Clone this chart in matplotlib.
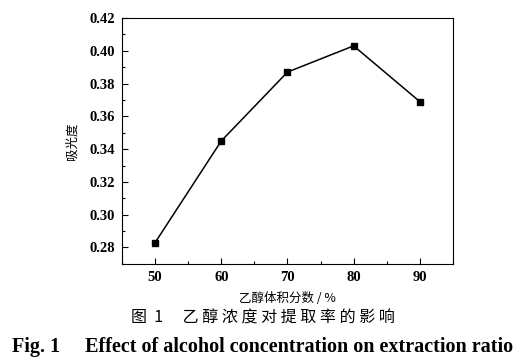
import matplotlib.pyplot as plt
from matplotlib.ticker import MultipleLocator

# 乙醇体积分数 (%) 与吸光度
ethanol = [50, 60, 70, 80, 90]
absorbance = [0.283, 0.345, 0.387, 0.403, 0.369]

cjk = ['Noto Sans CJK SC', 'DejaVu Sans']
serif = ['Liberation Serif', 'DejaVu Serif']

fig = plt.figure(figsize=(5.26, 3.6), dpi=100)
ax = fig.add_axes([0.232, 0.267, 0.629, 0.683])

ax.plot(ethanol, absorbance, color='black', linewidth=1.1,
        marker='s', markersize=4)

ax.set_xlim(45, 95)
ax.set_ylim(0.27, 0.42)
ax.xaxis.set_major_locator(MultipleLocator(10))
ax.xaxis.set_minor_locator(MultipleLocator(5))
ax.yaxis.set_major_locator(MultipleLocator(0.02))
ax.yaxis.set_minor_locator(MultipleLocator(0.01))
ax.tick_params(which='both', direction='in', top=False, right=False)
ax.tick_params(which='major', length=4, width=0.8, pad=5)
ax.tick_params(which='minor', length=2, width=0.8)
ax.set_yticks([0.28, 0.30, 0.32, 0.34, 0.36, 0.38, 0.40, 0.42])
ax.set_yticklabels(['%.2f' % v for v in ax.get_yticks()])

for lab in ax.get_xticklabels() + ax.get_yticklabels():
    lab.set_family(serif)
    lab.set_fontweight('bold')
    lab.set_fontsize(10.5)

ax.set_xlabel('乙醇体积分数 / %', family=cjk, fontsize=9, labelpad=6)
ax.set_ylabel('吸光度', family=cjk, fontsize=9, labelpad=8)

fig.text(0.5, 0.117, '图  1\u3000 乙 醇 浓 度 对 提 取 率 的 影 响', ha='center', va='center',
         family=cjk, fontsize=11.5)
fig.text(0.5, 0.036, 'Fig. 1\u2003 Effect of alcohol concentration on extraction ratio',
         ha='center', va='center', family=serif, fontweight='bold', fontsize=14.5)

fig.savefig('out.png', dpi=100)
